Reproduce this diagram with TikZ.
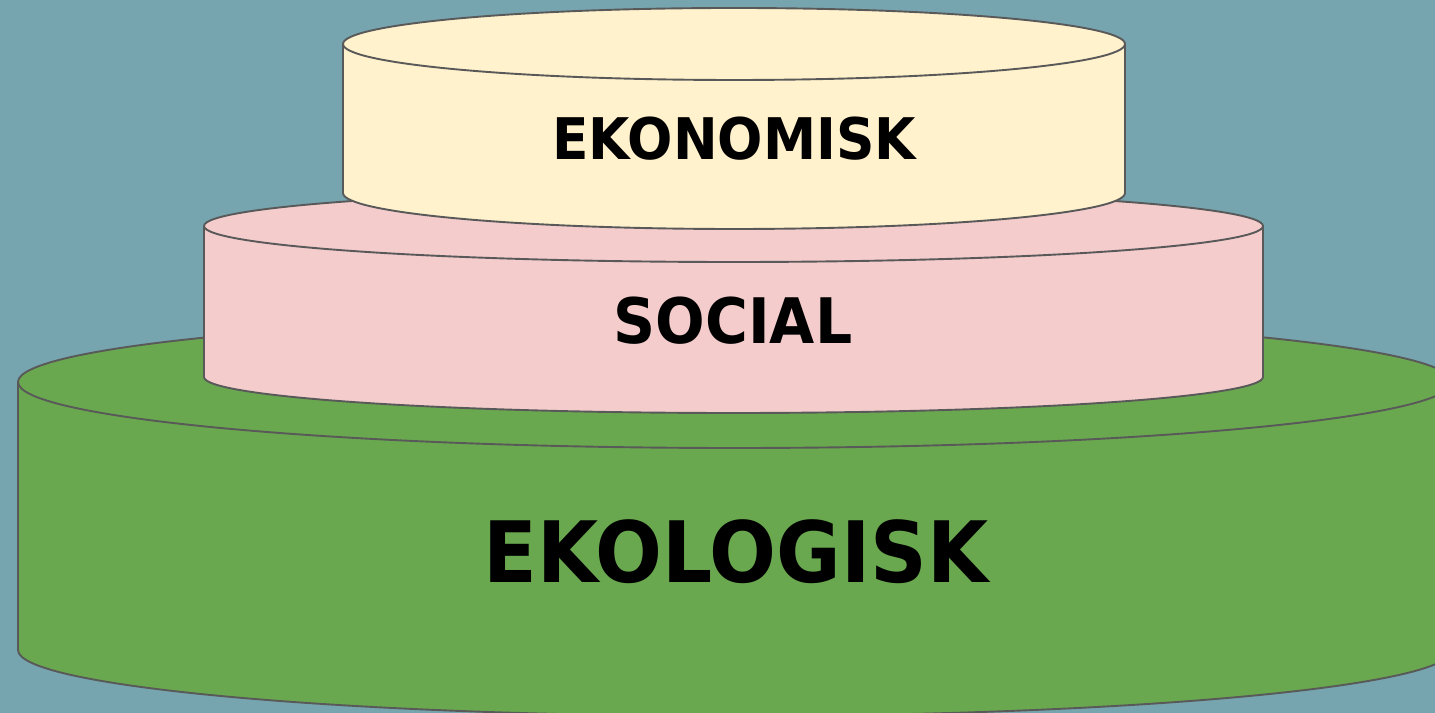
\documentclass[tikz,border=0pt]{standalone}
\usepackage{fontspec}
\setmainfont{DejaVu Sans}[FakeStretch=0.93]
\usepackage{tikz}

\definecolor{bgblue}{HTML}{76A5AF}
\definecolor{ecogreen}{HTML}{6AA84F}
\definecolor{socpink}{HTML}{F4CCCC}
\definecolor{econyellow}{HTML}{FFF2CC}
\definecolor{rimgray}{HTML}{595959}

\begin{document}
\begin{tikzpicture}[
            x=1bp, y=1bp,
            rim/.style={draw=rimgray, line width=1.9bp, line join=round},
            layer/.style={font=\bfseries, text=black, inner sep=0pt},
        ]

            %% Hintergrund
            \useasboundingbox (0,0) rectangle (1435,713);
            \fill[bgblue] (0,0) rectangle (1435,713);

            %% Zylinder: cx/rx/oben/unten/ry/Farbe
            \foreach \cx/\rx/\ty/\by/\ry/\col in {
                735/717/331/63/66/ecogreen,
                733.5/529.5/487/336/36/socpink,
                734/391/669/520/36/econyellow} {
                \fill[\col] (\cx-\rx,\ty) -- (\cx-\rx,\by)
                    arc[start angle=180, end angle=360, x radius=\rx, y radius=\ry]
                    -- (\cx+\rx,\ty)
                    arc[start angle=0, end angle=180, x radius=\rx, y radius=\ry] -- cycle;
                \draw[rim] (\cx-\rx,\ty) -- (\cx-\rx,\by)
                    arc[start angle=180, end angle=360, x radius=\rx, y radius=\ry]
                    -- (\cx+\rx,\ty);
                \draw[rim] (\cx,\ty) ellipse[x radius=\rx, y radius=\ry];
            }

            %% Beschriftung
            \node[layer, font=\fontsize{85}{90}\selectfont\bfseries] (ekologisk) at (736,161) {EKOLOGISK};
            \node[layer, font=\fontsize{63}{68}\selectfont\bfseries] (social)    at (733,392) {SOCIAL};
            \node[layer, font=\fontsize{57.6}{62}\selectfont\bfseries] (ekonomisk) at (734,574) {EKONOMISK};

        \end{tikzpicture}
\end{document}
